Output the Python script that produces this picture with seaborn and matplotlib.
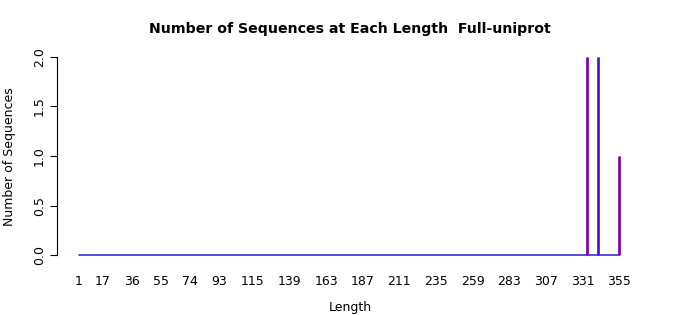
import numpy as np
import pandas as pd
import matplotlib
matplotlib.use("Agg")
import matplotlib.pyplot as plt
import seaborn as sns

# Data
min_length = 1
max_length = 355
bar_lengths = [334, 341, 355]
bar_counts = [2, 2, 1]
xtick_labels = [1, 17, 36, 55, 74, 93, 115, 139, 163, 187, 211, 235, 259, 283, 307, 331, 355]
ytick_values = [0.0, 0.5, 1.0, 1.5, 2.0]

sns.set_style("white")
plt.rcParams['font.family'] = ['DejaVu Sans']
plt.rcParams['text.color'] = 'black'
plt.rcParams['xtick.color'] = 'black'
plt.rcParams['ytick.color'] = 'black'
plt.rcParams['axes.labelcolor'] = 'black'

full = pd.DataFrame({"length": range(min_length, max_length + 1)})
obs = pd.DataFrame({"length": bar_lengths, "count": bar_counts})
df = full.merge(obs, on="length", how="left").fillna(0)

fig = plt.figure(figsize=(7, 3.15), dpi=100)
ax = fig.add_axes([57 / 700, 52 / 315, 584 / 700, 214 / 315])

# baseline of zero counts across all lengths
zero = df.copy()
zero["count"] = 0
sns.lineplot(data=zero, x="length", y="count", ax=ax, estimator=None,
             color="#3030e0", linewidth=1.2)
nz = df[df["count"] > 0]
ax.vlines(nz["length"], 0, nz["count"], color="#a020b0", linewidth=2.1)
ax.vlines(nz["length"], 0, nz["count"], color="#4a10d0", linewidth=1.0)

span = max_length - min_length
ax.set_xlim(min_length - 0.04 * span, max_length + 0.04 * span)
ax.set_ylim(-0.08, 2.08)

ax.set_xticks(xtick_labels)
ax.set_xticklabels([str(v) for v in xtick_labels], fontsize=9)
ax.tick_params(axis="x", length=0, pad=8.5)
ax.set_yticks(ytick_values)
ax.set_yticklabels([f"{v:.1f}" for v in ytick_values], fontsize=9)
ax.tick_params(axis="y", length=5, width=0.8, color="black", pad=3,
               left=True, labelrotation=90)
for lab in ax.get_yticklabels():
    lab.set_va("center")

for s in ["top", "right", "bottom"]:
    ax.spines[s].set_visible(False)
ax.spines["left"].set_bounds(0, 2)
ax.spines["left"].set_color("black")
ax.spines["left"].set_linewidth(0.8)

ax.set_xlabel("Length", fontsize=9, va="center")
ax.xaxis.set_label_coords((350 - 57) / 584, (263 - 307) / 214)
ax.set_ylabel("Number of Sequences", fontsize=9, va="center")
ax.yaxis.set_label_coords((10 - 57) / 584, (263 - 157) / 214)
ax.set_title("Number of Sequences at Each Length  Full-uniprot", fontsize=10.2,
             fontweight="bold", x=(350 - 57) / 584, y=(263 - 29) / 214,
             va="center", pad=0)

fig.savefig("out.png", dpi=100)
